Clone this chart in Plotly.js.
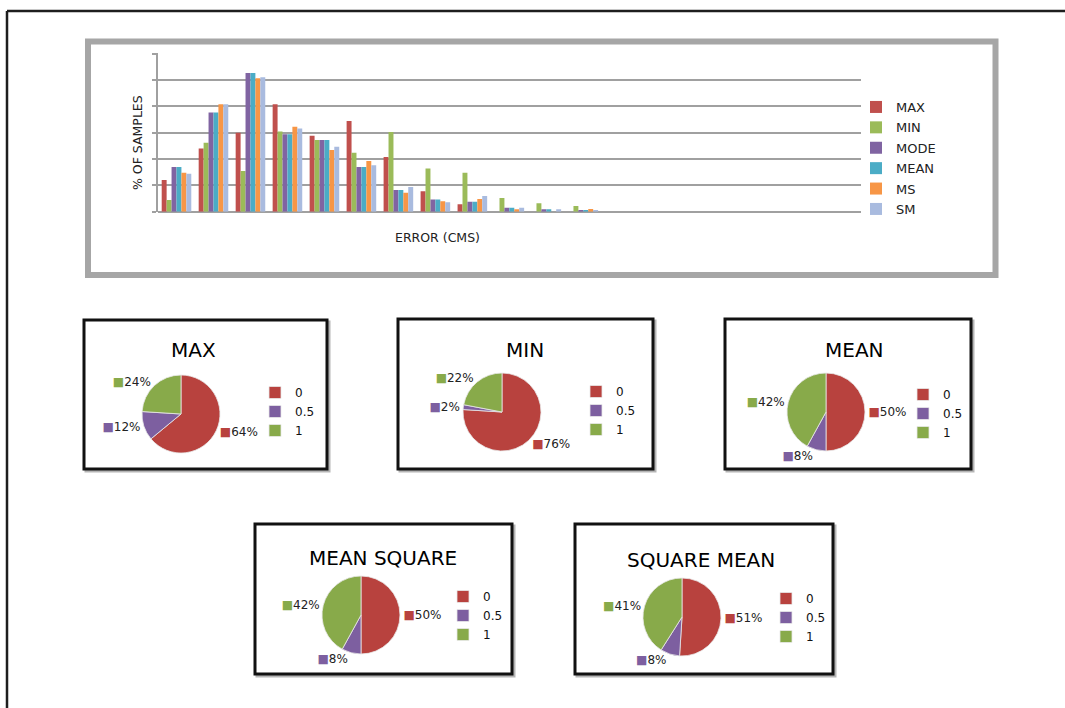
<!DOCTYPE html>
<html>
<head>
<meta charset="utf-8">
<script src="https://cdn.plot.ly/plotly-3.0.1.min.js"></script>
<style>
  html, body { margin: 0; padding: 0; background: #ffffff; }
  #chart { width: 1065px; height: 708px; }
</style>
</head>
<body>
<div id="chart"></div>
<script>
// ---- Error histogram: share of samples per error bin, per estimator ----
const errorBin = [1, 2, 3, 4, 5, 6, 7, 8, 9, 10, 11, 12];
const seriesNames = ['MAX', 'MIN', 'MODE', 'MEAN', 'MS', 'SM'];
const maxPct  = [6.0, 12.0, 15.0, 20.4, 14.4, 17.2, 10.4, 3.9, 1.4, 0, 0, 0];
const minPct  = [2.2, 13.1, 7.7, 15.2, 13.6, 11.2, 15.1, 8.2, 7.4, 2.6, 1.6, 1.1];
const modePct = [8.5, 18.8, 26.3, 14.7, 13.6, 8.5, 4.1, 2.3, 1.9, 0.75, 0.45, 0.3];
const meanPct = [8.5, 18.8, 26.3, 14.7, 13.6, 8.5, 4.1, 2.3, 1.9, 0.75, 0.45, 0.3];
const msPct   = [7.4, 20.4, 25.3, 16.1, 11.7, 9.6, 3.6, 2.0, 2.4, 0.45, 0, 0.5];
const smPct   = [7.2, 20.4, 25.5, 15.8, 12.3, 8.8, 4.7, 1.8, 3.0, 0.75, 0.45, 0.3];
const seriesColors = ['#c0504d', '#9bbb59', '#8064a2', '#4bacc6', '#f79646', '#a9bbdf'];

// ---- Pie charts: share of error classes 0 / 0.5 / 1 ----
const errorClass = ['0', '0.5', '1'];
const pieTitles = ['MAX', 'MIN', 'MEAN', 'MEAN SQUARE', 'SQUARE MEAN'];
const maxShare  = [64, 12, 24];
const minShare  = [76, 2, 22];
const meanShare = [50, 8, 42];
const msShare   = [50, 8, 42];
const smShare   = [51, 8, 41];
const sliceColors = ['#b8423e', '#7d5fa0', '#88aa4a'];

// page geometry helpers (pixels -> paper fractions)
const W = 1065, H = 708;
const px = x => x / W;
const py = y => 1 - y / H;

const FONT = 'DejaVu Sans, Verdana, sans-serif';

const seriesValues = [maxPct, minPct, modePct, meanPct, msPct, smPct];
const traces = seriesNames.map((name, i) => ({
  type: 'bar',
  name: name,
  x: errorBin,
  y: seriesValues[i],
  marker: { color: seriesColors[i], line: { width: 0 } },
  legendgroup: name,
  hoverinfo: 'name+y'
}));

// one pie per estimator, each with its own small legend
const pieValues = [maxShare, minShare, meanShare, msShare, smShare];
// pie centres, legend anchors, frames and title positions on the page (px)
const pieBoxes = [
  { cx: 181, cy: 414, lx: 255, ly: 378, box: [84, 320, 327, 469],  tx: 193, ty: 350 },
  { cx: 502, cy: 412, lx: 576, ly: 377, box: [398, 319, 653, 469], tx: 525, ty: 350 },
  { cx: 826, cy: 412, lx: 903, ly: 380, box: [725, 319, 971, 469], tx: 854, ty: 350 },
  { cx: 361, cy: 615, lx: 443, ly: 582, box: [255, 524, 512, 674], tx: 383, ty: 558 },
  { cx: 682, cy: 617, lx: 766, ly: 584, box: [575, 524, 833, 674], tx: 701, ty: 560 }
];
const labelTemplate = sliceColors.map(c => '<span style="color:' + c + '">■</span>%{value}%');

pieValues.forEach((vals, i) => {
  const b = pieBoxes[i];
  const hw = 60, hh = 39;
  traces.push({
    type: 'pie',
    labels: errorClass,
    values: vals,
    sort: false,
    direction: 'clockwise',
    rotation: 0,
    marker: { colors: sliceColors, line: { color: '#e8e8e8', width: 0.8 } },
    textposition: 'outside',
    texttemplate: labelTemplate,
    textfont: { family: FONT, size: 12, color: '#222222' },
    domain: { x: [px(b.cx - hw), px(b.cx + hw)], y: [py(b.cy + hh), py(b.cy - hh)] },
    legend: 'legend' + (i + 2),
    legendgroup: 'pie' + i,
    hoverinfo: 'label+percent'
  });
});

const shapes = [
  // page frame (top and left rules)
  { type: 'line', xref: 'paper', yref: 'paper', x0: px(7), x1: px(1065), y0: py(11), y1: py(11),
    line: { color: '#1e1e1e', width: 2.5 } },
  { type: 'line', xref: 'paper', yref: 'paper', x0: px(7), x1: px(7), y0: py(11), y1: py(708),
    line: { color: '#1e1e1e', width: 2.5 } },
  // frame around the histogram
  { type: 'rect', xref: 'paper', yref: 'paper', x0: px(88), x1: px(995.5), y0: py(41.5), y1: py(275),
    line: { color: '#a6a6a6', width: 6 } }
];
pieBoxes.forEach(b => {
  const [x0, y0, x1, y1] = b.box;
  shapes.push({ type: 'rect', xref: 'paper', yref: 'paper', layer: 'below',
    x0: px(x0 + 2), x1: px(x1 + 2), y0: py(y0 + 2), y1: py(y1 + 2),
    line: { color: '#b5b5b5', width: 3 } });
  shapes.push({ type: 'rect', xref: 'paper', yref: 'paper', layer: 'below',
    x0: px(x0), x1: px(x1), y0: py(y0), y1: py(y1),
    line: { color: '#111111', width: 3 }, fillcolor: '#ffffff' });
});

const annotations = [
  { text: '% OF SAMPLES', xref: 'paper', yref: 'paper', x: px(137), y: py(143), textangle: -90,
    showarrow: false, xanchor: 'center', yanchor: 'middle', font: { family: FONT, size: 12.5, color: '#222' } },
  { text: 'ERROR (CMS)', xref: 'paper', yref: 'paper', x: px(437), y: py(237),
    showarrow: false, xanchor: 'center', yanchor: 'middle', font: { family: FONT, size: 12.5, color: '#222' } }
];
pieBoxes.forEach((b, i) => {
  annotations.push({ text: pieTitles[i], xref: 'paper', yref: 'paper', x: px(b.tx), y: py(b.ty),
    showarrow: false, xanchor: 'center', yanchor: 'middle',
    font: { family: FONT, size: 20, color: '#000' } });
});

const pieLegend = b => ({
  x: px(b.lx), y: py(b.ly), xanchor: 'left', yanchor: 'top',
  bgcolor: 'rgba(0,0,0,0)', borderwidth: 0,
  font: { family: FONT, size: 12, color: '#111' }
});

const layout = {
  width: W, height: H,
  margin: { l: 0, r: 0, t: 0, b: 0, pad: 0 },
  paper_bgcolor: '#ffffff',
  plot_bgcolor: 'rgba(0,0,0,0)',
  font: { family: FONT, color: '#222' },
  barmode: 'group',
  bargap: 0.2,
  bargroupgap: 0,
  xaxis: {
    domain: [px(158), px(860.7)],
    range: [0.5, 19.5],
    showticklabels: false,
    ticks: '',
    showgrid: false,
    zeroline: false,
    showline: false,
    fixedrange: true
  },
  yaxis: {
    domain: [py(211.7), py(53.3)],
    range: [0, 30.05],
    dtick: 5,
    showticklabels: false,
    ticks: 'outside',
    ticklen: 4,
    tickwidth: 2,
    tickcolor: '#a0a0a0',
    showgrid: true,
    gridcolor: '#a0a0a0',
    gridwidth: 2,
    zeroline: true,
    zerolinecolor: '#a0a0a0',
    zerolinewidth: 2,
    showline: true,
    linecolor: '#a0a0a0',
    linewidth: 2,
    fixedrange: true
  },
  legend: {
    x: px(856), y: py(92), xanchor: 'left', yanchor: 'top',
    tracegroupgap: 0.5,
    bgcolor: 'rgba(0,0,0,0)', borderwidth: 0,
    font: { family: FONT, size: 13, color: '#222' }
  },
  legend2: pieLegend(pieBoxes[0]),
  legend3: pieLegend(pieBoxes[1]),
  legend4: pieLegend(pieBoxes[2]),
  legend5: pieLegend(pieBoxes[3]),
  legend6: pieLegend(pieBoxes[4]),
  shapes: shapes,
  annotations: annotations,
  showlegend: true
};

Plotly.newPlot('chart', traces, layout, { displayModeBar: false, staticPlot: true });
</script>
</body>
</html>
